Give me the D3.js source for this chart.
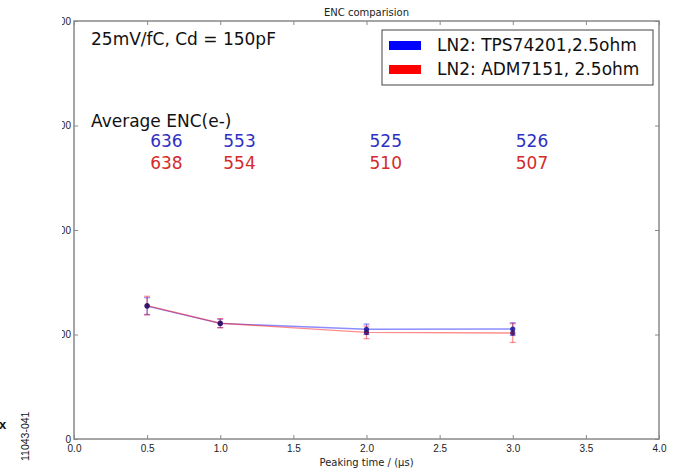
<!DOCTYPE html>
<html>
<head>
<meta charset="utf-8">
<script src="https://cdn.jsdelivr.net/npm/d3@7"></script>
<style>
  body { margin: 0; background: #fff; }
  svg { font-family: "DejaVu Sans", sans-serif; }
  .axis path, .axis line { stroke: #888; }
  .axis text { fill: #222; font-size: 10px; }
</style>
</head>
<body>
<div id="chart"></div>
<script>
// data
var peaking = [0.5, 1.0, 2.0, 3.0];
var tpsEnc = [636, 553, 525, 526];
var admEnc = [638, 554, 510, 507];
var tpsErr = [40, 20, 25, 30];
var admErr = [45, 22, 30, 45];
var xTicks = [0, 0.5, 1, 1.5, 2, 2.5, 3, 3.5, 4];
var yTicks = [0, 500, 1000, 1500, 2000];
var legendLabels = ["LN2: TPS74201,2.5ohm", "LN2: ADM7151, 2.5ohm"];

var svgWidth = 677, svgHeight = 470;
var margin = { top: 21, right: 18, bottom: 31, left: 74 };
var chart_width = svgWidth - margin.left - margin.right;
var chart_height = svgHeight - margin.top - margin.bottom;

var svg = d3.select("#chart").append("svg")
    .attr("width", svgWidth)
    .attr("height", svgHeight);

// the left part of the picture is cut off, so tick labels get clipped
svg.append("clipPath").attr("id", "cut")
    .append("rect").attr("x", 62).attr("y", 0).attr("width", svgWidth).attr("height", svgHeight);

var chart = svg.append("g")
    .attr("transform", `translate(${margin.left}, ${margin.top})`);

var xScale = d3.scaleLinear().domain([0, 4]).range([0, chart_width]);
var yScale = d3.scaleLinear().domain([0, 2000]).range([chart_height, 0]);

// axes, ticks point inward like matplotlib classic
chart.append("g").attr("class", "axis")
    .attr("transform", `translate(0, ${chart_height})`)
    .call(d3.axisBottom(xScale).tickValues(xTicks).tickSize(-4).tickPadding(6).tickFormat(d3.format(".1f")))
    .call(g => g.select(".domain").remove());

chart.append("g").attr("class", "axis")
    .call(d3.axisTop(xScale).tickValues(xTicks).tickSize(-4).tickFormat(""))
    .call(g => g.select(".domain").remove());

svg.append("g").attr("clip-path", "url(#cut)")
    .append("g").attr("class", "axis")
    .attr("transform", `translate(${margin.left}, ${margin.top})`)
    .call(d3.axisLeft(yScale).tickValues(yTicks).tickSize(-4).tickPadding(3).tickFormat(d3.format("d")))
    .call(g => g.select(".domain").remove());

chart.append("g").attr("class", "axis")
    .attr("transform", `translate(${chart_width}, 0)`)
    .call(d3.axisRight(yScale).tickValues(yTicks).tickSize(-4).tickFormat(""))
    .call(g => g.select(".domain").remove());

chart.append("rect")
    .attr("width", chart_width).attr("height", chart_height)
    .attr("fill", "none").attr("stroke", "#888").attr("stroke-width", 1.5);

// series
var series = [
    { values: tpsEnc, errs: tpsErr, color: "blue", text: "#2f2fc4" },
    { values: admEnc, errs: admErr, color: "red", text: "#d42a2a" }
];

var line = d3.line()
    .x(d => xScale(d[0]))
    .y(d => yScale(d[1]));

series.forEach(function(s) {
    var pts = peaking.map((p, i) => [p, s.values[i], s.errs[i]]);
    chart.append("path")
        .datum(pts)
        .attr("d", line)
        .attr("fill", "none")
        .attr("stroke", s.color)
        .attr("stroke-opacity", 0.45)
        .attr("stroke-width", 1.4);

    var eb = chart.append("g").selectAll("g").data(pts).enter().append("g")
        .attr("stroke", s.color).attr("stroke-opacity", 0.45).attr("stroke-width", 1.2);
    eb.append("line")
        .attr("x1", d => xScale(d[0])).attr("x2", d => xScale(d[0]))
        .attr("y1", d => yScale(d[1] - d[2])).attr("y2", d => yScale(d[1] + d[2]));
    eb.append("line")
        .attr("x1", d => xScale(d[0]) - 3).attr("x2", d => xScale(d[0]) + 3)
        .attr("y1", d => yScale(d[1] - d[2])).attr("y2", d => yScale(d[1] - d[2]));
    eb.append("line")
        .attr("x1", d => xScale(d[0]) - 3).attr("x2", d => xScale(d[0]) + 3)
        .attr("y1", d => yScale(d[1] + d[2])).attr("y2", d => yScale(d[1] + d[2]));
});

// markers
series.forEach(function(s) {
    chart.append("g").selectAll("circle")
        .data(peaking.map((p, i) => [p, s.values[i]]))
        .enter().append("circle")
        .attr("cx", d => xScale(d[0]))
        .attr("cy", d => yScale(d[1]))
        .attr("r", 2.6)
        .attr("fill", s.color == "blue" ? "#1a1a9a" : "#3a1060")
        .attr("fill-opacity", 0.85);
});

// annotations
chart.append("text")
    .attr("x", 17).attr("y", 24)
    .attr("font-size", 17).attr("fill", "#111")
    .text("25mV/fC, Cd = 150pF");

chart.append("text")
    .attr("x", 17).attr("y", 106)
    .attr("font-size", 17).attr("fill", "#111")
    .text("Average ENC(e-)");

series.forEach(function(s, k) {
    chart.append("g").selectAll("text")
        .data(peaking.map((p, i) => [p, s.values[i]]))
        .enter().append("text")
        .attr("x", d => xScale(d[0]) + 3)
        .attr("y", 126 + k * 22)
        .attr("font-size", 17)
        .attr("fill", s.text)
        .text(d => d[1]);
});

// legend
var legend = chart.append("g").attr("transform", `translate(${xScale(4) - 277}, 9)`);
legend.append("rect")
    .attr("width", 271).attr("height", 55)
    .attr("fill", "#fff").attr("stroke", "#444").attr("stroke-width", 1);
series.forEach(function(s, k) {
    legend.append("rect")
        .attr("x", 7).attr("y", 11 + k * 24)
        .attr("width", 32).attr("height", 9)
        .attr("fill", s.color);
    legend.append("text")
        .attr("x", 55).attr("y", 21 + k * 24)
        .attr("font-size", 17).attr("fill", "#111")
        .text(legendLabels[k]);
});

// title and axis label
svg.append("text")
    .attr("x", margin.left + chart_width / 2).attr("y", 16)
    .attr("text-anchor", "middle").attr("font-size", 10).attr("fill", "#222")
    .text("ENC comparision");

svg.append("text")
    .attr("x", margin.left + chart_width / 2).attr("y", 466)
    .attr("text-anchor", "middle").attr("font-size", 10).attr("fill", "#222")
    .text("Peaking time / (μs)");

// bits of the surrounding page that are in the picture
svg.append("text")
    .attr("transform", "translate(29, 461) rotate(-90)")
    .attr("font-size", 10.5).attr("font-family", "Arial, 'Liberation Sans', sans-serif").attr("fill", "#111")
    .text("11043-041");

svg.append("text")
    .attr("x", -1).attr("y", 429)
    .attr("font-size", 13).attr("font-family", "Arial, 'Liberation Sans', sans-serif").attr("font-weight", "bold").attr("fill", "#111")
    .text("x");
</script>
</body>
</html>
